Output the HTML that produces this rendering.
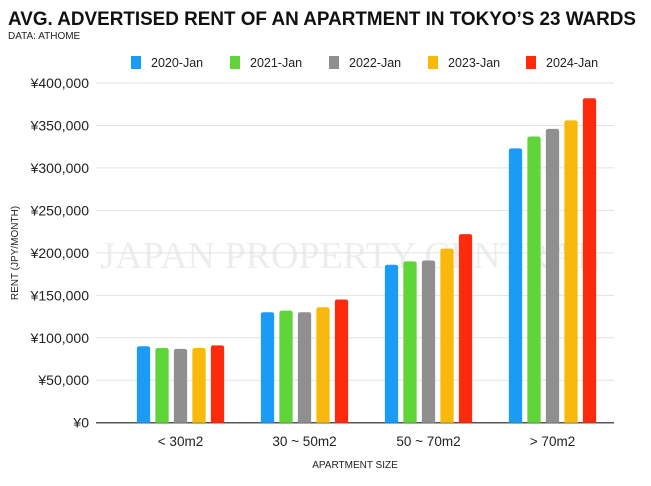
<!DOCTYPE html>
<html><head><meta charset="utf-8"><style>
body{margin:0;background:#fff;width:651px;height:481px;overflow:hidden;font-family:"Liberation Sans",sans-serif}
</style></head><body>
<svg width="651" height="481" xmlns="http://www.w3.org/2000/svg">
<text x="8" y="25" font-size="19.5" font-weight="bold" fill="#111" textLength="628" lengthAdjust="spacingAndGlyphs">AVG. ADVERTISED RENT OF AN APARTMENT IN TOKYO’S 23 WARDS</text>
<text x="8" y="39" font-size="10" fill="#222">DATA: ATHOME</text>
<text x="350" y="268" font-size="38" fill="#000" fill-opacity="0.07" text-anchor="middle" font-family="Liberation Serif,serif">JAPAN PROPERTY CENTRAL</text>
<g id="grid"></g><g id="bars"></g><g id="legend"></g>
<text x="18" y="253" font-size="10" fill="#222" text-anchor="middle" transform="rotate(-90 18 253)">RENT (JPY/MONTH)</text>
<text x="355" y="468" font-size="10" fill="#222" text-anchor="middle">APARTMENT SIZE</text>
</svg>
<script>
const categories=["< 30m2","30 ~ 50m2","50 ~ 70m2","> 70m2"];
const seriesNames=["2020-Jan","2021-Jan","2022-Jan","2023-Jan","2024-Jan"];
const s2020=[90000,130000,186000,323000];
const s2021=[88000,132000,190000,337000];
const s2022=[87000,130000,191000,346000];
const s2023=[88000,136000,205000,356000];
const s2024=[91000,145000,222000,382000];
const yTicks=[0,50000,100000,150000,200000,250000,300000,350000,400000];
const yTickLabels=["¥0","¥50,000","¥100,000","¥150,000","¥200,000","¥250,000","¥300,000","¥350,000","¥400,000"];
const colors=["#1a9bf5","#5fd53a","#8f8f8f","#f8b90c","#fd2a0b"];
const series=[s2020,s2021,s2022,s2023,s2024];
const NS="http://www.w3.org/2000/svg";
const y0=422.7,y1=83,x0=96,x1=614;
const y=v=>y0-(v/400000)*(y0-y1);
const xc=i=>180.5+124*i;
function mk(tag,attrs,parent){const e=document.createElementNS(NS,tag);for(const k in attrs)e.setAttribute(k,attrs[k]);parent.appendChild(e);return e;}
const grid=document.getElementById('grid');
yTicks.forEach((t,i)=>{
 if(i>0){const l=mk('line',{x1:x0,x2:x1,y1:y(t),y2:y(t),stroke:'#e2e2e2','stroke-width':1},grid);
 
 }
 const tx=mk('text',{x:89,y:y(t)+5,'font-size':14,'text-anchor':'end',fill:'#222'},grid);
 tx.textContent=yTickLabels[i];
 
 
});
const ax=mk('line',{x1:x0,x2:x1,y1:y0,y2:y0,stroke:'#555','stroke-width':1.5},grid);


const bars=document.getElementById('bars');
const bw=13.3,step=18.5;
categories.forEach((c,i)=>{
 series.forEach((s,j)=>{
  const bx=xc(i)-(4*step+bw)/2+j*step, top=y(s[i]);
  const r=mk('path',{d:`M${bx},${y0}V${top+2.5}Q${bx},${top} ${bx+2.5},${top}H${bx+bw-2.5}Q${bx+bw},${top} ${bx+bw},${top+2.5}V${y0}Z`,fill:colors[j]},bars);
  
  
 });
 const t=mk('text',{x:xc(i),y:446,'font-size':13.5,'text-anchor':'middle',fill:'#222'},bars);
 t.textContent=c;
 
 
});
const lg=document.getElementById('legend');
const lx=[131,230,329,428,526];
seriesNames.forEach((n,j)=>{
 const g=mk('g',{},lg);
 
 
 mk('rect',{x:lx[j],y:56,width:10,height:13,fill:colors[j]},g);
 const t=mk('text',{x:lx[j]+20,y:67,'font-size':12.5,fill:'#222'},g);
 t.textContent=n;
});
</script>
</body></html>
